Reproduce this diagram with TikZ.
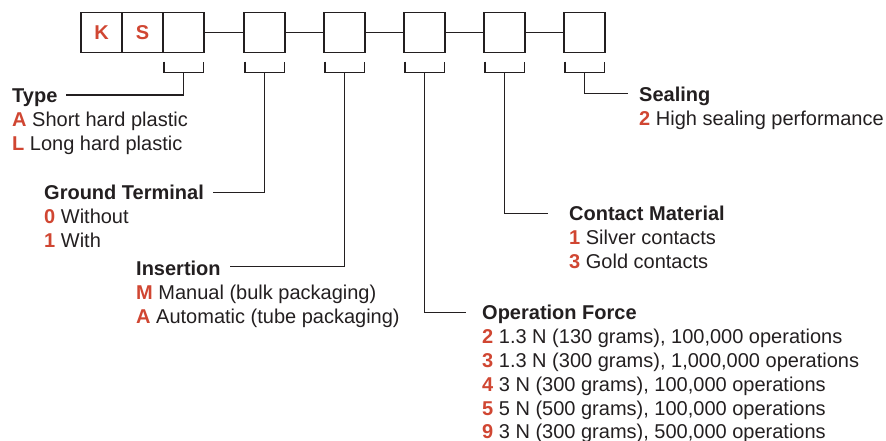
\documentclass[tikz,border=0pt]{standalone}
\usepackage{fontspec}
\setmainfont{Liberation Sans}
\definecolor{accent}{RGB}{208,70,50}
\definecolor{ink}{RGB}{35,31,32}
\newcommand\rk[1]{{\bfseries\color{accent}#1}}
\begin{document}
\begin{tikzpicture}[x=1pt,y=1pt,
  box/.style={draw=ink,line width=1.2pt,minimum width=41pt,minimum height=40.4pt,inner sep=0pt,
    font=\fontsize{20}{24}\selectfont\bfseries,text=accent},
  conn/.style={draw=ink,line width=1.2pt},
  head/.style={anchor=base west,inner sep=0pt,font=\fontsize{20}{24}\selectfont\bfseries,text=ink},
  item/.style={anchor=base west,inner sep=0pt,font=\fontsize{20}{24}\selectfont,text=ink}]
\useasboundingbox (0,0) rectangle (886,441);
% code boxes
\node[box] (b1) at (101.5,408.5) {K};
\node[box] (b2) at (142.5,408.5) {S};
\node[box] (b3) at (183.5,408.5) {};
\node[box] (b4) at (264.5,408.5) {};
\node[box] (b5) at (344.5,408.5) {};
\node[box] (b6) at (424.5,408.5) {};
\node[box] (b7) at (504.5,408.5) {};
\node[box] (b8) at (584.5,408.5) {};
\draw[conn] (b3.east) -- (b4.west);
\draw[conn] (b4.east) -- (b5.west);
\draw[conn] (b5.east) -- (b6.west);
\draw[conn] (b6.east) -- (b7.west);
\draw[conn] (b7.east) -- (b8.west);
% brackets and stems
\foreach \b in {3,4,5,6,7,8}{
  \draw[conn] ([shift={(1.5pt,-8.3pt)}]b\b.south west) -- ++(0,-11) -| ([shift={(-1pt,-8.3pt)}]b\b.south east);
  \coordinate (s\b) at ([yshift=-19.3pt]b\b.south);
}
% line ends
\coordinate (typeE) at (65.7,346);
\coordinate (gndE) at (213,248.3);
\coordinate (insE) at (230,174.3);
\coordinate (opE) at (465.7,128.3);
\coordinate (conE) at (548.3,227.7);
\coordinate (sealE) at (628.3,347.7);
\draw[conn] (s3) |- (typeE);
\draw[conn] (s4) |- (gndE);
\draw[conn] (s5) |- (insE);
\draw[conn] (s6) |- (opE);
\draw[conn] (s7) |- (conE);
\draw[conn] (s8) |- (sealE);
% Type
\node[head] (typeT) at (12,338) {Type};
\node[item] (typeA) at (12,314) {\rk{A} Short hard plastic};
\node[item] (typeL) at (12,290) {\rk{L} Long hard plastic};
% Ground terminal
\node[head] (gndT) at (44,241) {Ground Terminal};
\node[item] (gnd0) at (44,217) {\rk{0} Without};
\node[item] (gnd1) at (44,193) {\rk{1} With};
% Insertion
\node[head] (insT) at (136,165.3) {Insertion};
\node[item] (insM) at (136,141.3) {\rk{M} Manual (bulk packaging)};
\node[item] (insA) at (136,117.3) {\rk{A} Automatic (tube packaging)};
% Operation force
\node[head] (opT) at (482,121) {Operation Force};
\node[item] (op2) at (482,97) {\rk{2} 1.3 N (130 grams), 100,000 operations};
\node[item] (op3) at (482,73) {\rk{3} 1.3 N (300 grams), 1,000,000 operations};
\node[item] (op4) at (482,49) {\rk{4} 3 N (300 grams), 100,000 operations};
\node[item] (op5) at (482,25) {\rk{5} 5 N (500 grams), 100,000 operations};
\node[item] (op9) at (482,2) {\rk{9} 3 N (300 grams), 500,000 operations};
% Contact material
\node[head] (conT) at (569,220) {Contact Material};
\node[item] (con1) at (569,196) {\rk{1} Silver contacts};
\node[item] (con3) at (569,172) {\rk{3} Gold contacts};
% Sealing
\node[head] (sealT) at (639,339) {Sealing};
\node[item] (seal2) at (639,315) {\rk{2} High sealing performance};
\end{tikzpicture}
\end{document}
